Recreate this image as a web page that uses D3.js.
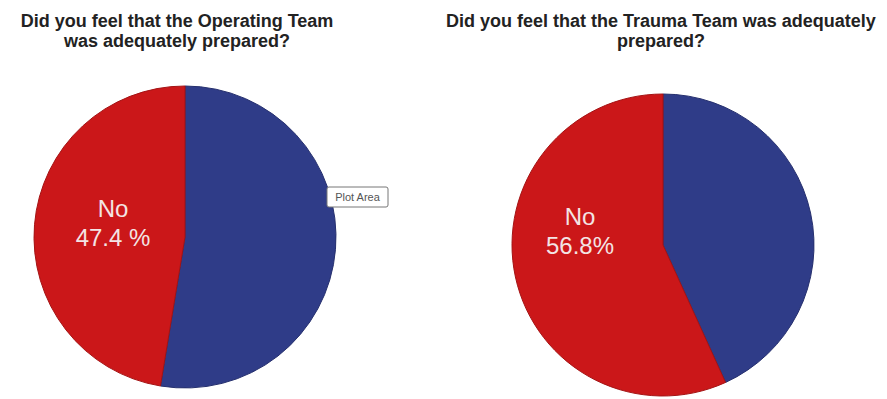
<!DOCTYPE html>
<html>
<head>
<meta charset="utf-8">
<script src="https://cdn.jsdelivr.net/npm/d3@7"></script>
<style>
  body { margin: 0; background: #fff; }
  svg { display: block; font-family: "Liberation Sans", Arial, sans-serif; }
</style>
</head>
<body>
<div id="chart"></div>
<script>
// survey answers, percent
var answers = ["Yes", "No"];
var operatingTeam = [52.6, 47.4];
var traumaTeam = [43.2, 56.8];
var noLabels = ["47.4 %", "56.8%"];
var titles = [
    ["Did you feel that the Operating Team", "was adequately prepared?"],
    ["Did you feel that the Trauma Team was adequately", "prepared?"]
];

var width = 887, height = 399;
var svg = d3.select("#chart").append("svg")
    .attr("width", width)
    .attr("height", height);

var color = d3.scaleOrdinal()
    .domain(answers)
    .range(["#2f3c88", "#cb1719"]);

var pie = d3.pie().sort(null);

var charts = [
    { values: operatingTeam, cx: 185, cy: 237, r: 151, titleX: 177, label: noLabels[0], lx: 113, ly: 217, title: titles[0] },
    { values: traumaTeam, cx: 663, cy: 245, r: 151, titleX: 661, label: noLabels[1], lx: 580, ly: 225, title: titles[1] }
];

charts.forEach(function (c) {
    var arc = d3.arc().innerRadius(0).outerRadius(c.r);
    var g = svg.append("g")
        .attr("transform", "translate(" + c.cx + "," + c.cy + ")");

    g.selectAll("path")
        .data(pie(c.values))
        .enter().append("path")
        .attr("d", arc)
        .attr("fill", function (d, i) { return color(answers[i]); })
        .attr("stroke", function (d, i) { return d3.color(color(answers[i])).darker(0.6); })
        .attr("stroke-width", 1);

    var t = svg.append("text")
        .attr("text-anchor", "middle")
        .attr("font-size", 18)
        .attr("font-weight", "bold")
        .attr("fill", "#222");
    c.title.forEach(function (line, i) {
        t.append("tspan")
            .attr("x", c.titleX)
            .attr("y", 27 + i * 20)
            .text(line);
    });

    var lab = svg.append("text")
        .attr("text-anchor", "middle")
        .attr("font-size", 24)
        .attr("fill", "#f3e4e4");
    lab.append("tspan").attr("x", c.lx).attr("y", c.ly).text("No");
    lab.append("tspan").attr("x", c.lx).attr("y", c.ly + 29).text(c.label);
});

// leftover tooltip from the source screenshot
var tip = svg.append("g").attr("transform", "translate(327,187)");
tip.append("rect")
    .attr("width", 61).attr("height", 20)
    .attr("rx", 2)
    .attr("fill", "#fff")
    .attr("stroke", "#777");
tip.append("text")
    .attr("x", 30.5).attr("y", 14)
    .attr("text-anchor", "middle")
    .attr("font-size", 11)
    .attr("fill", "#555")
    .text("Plot Area");
</script>
</body>
</html>
